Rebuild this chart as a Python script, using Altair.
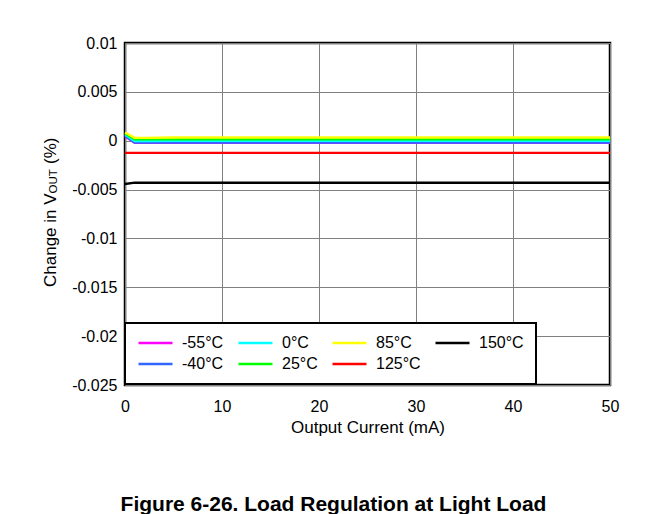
import altair as alt
import pandas as pd

# Output current (mA)
current = [0, 1, 2, 5, 10, 20, 30, 40, 50]

# Change in VOUT (%) per temperature
series_names = ["-55°C", "-40°C", "0°C", "25°C", "85°C", "125°C", "150°C"]
v_m55 = [0.00045, -0.00022, -0.00022, -0.00021, -0.00021, -0.00021, -0.00021, -0.00021, -0.00021]
v_m40 = [0.00050, -0.00020, -0.00020, -0.00019, -0.00019, -0.00019, -0.00019, -0.00019, -0.00019]
v_0 = [0.00063, -0.00003, -0.00003, -0.00002, -0.00002, -0.00002, -0.00002, -0.00002, -0.00002]
v_25 = [0.00074, 0.00014, 0.00014, 0.00015, 0.00015, 0.00015, 0.00015, 0.00015, 0.00015]
v_85 = [0.00085, 0.00030, 0.00030, 0.00033, 0.00033, 0.00033, 0.00033, 0.00033, 0.00033]
v_125 = [-0.00125, -0.00125, -0.00125, -0.00125, -0.00125, -0.00125, -0.00125, -0.00125, -0.00125]
v_150 = [-0.00443, -0.00430, -0.00430, -0.00430, -0.00430, -0.00430, -0.00430, -0.00430, -0.00430]
series_values = [v_m55, v_m40, v_0, v_25, v_85, v_125, v_150]

legend_order = ["-55°C", "-40°C", "0°C", "25°C", "85°C", "125°C", "150°C"]
legend_colors = ["#FF00FF", "#3366FF", "#00FFFF", "#00FF00", "#FFFF00", "#FF0000", "#000000"]

y_ticks = [0.01, 0.005, 0, -0.005, -0.01, -0.015, -0.02, -0.025]
x_ticks = [0, 10, 20, 30, 40, 50]

rows = []
for order, (name, vals) in enumerate(zip(series_names, series_values)):
    for x, v in zip(current, vals):
        rows.append({"I": x, "dV": v, "T": name, "o": order})
df = pd.DataFrame(rows)

FONT = "Liberation Sans"

lines = alt.Chart(df).mark_line(strokeWidth=2.3).encode(
    x=alt.X("I:Q", scale=alt.Scale(domain=[0, 50], nice=False),
            axis=alt.Axis(values=x_ticks, title="Output Current (mA)", grid=True,
                          ticks=False, domain=False, labelPadding=13, labelFlush=False,
                          labelFontSize=16, titleFontSize=17, titlePadding=5,
                          labelFont=FONT, titleFont=FONT, titleFontWeight="normal",
                          labelColor="black", titleColor="black",
                          gridColor="#808080", gridWidth=1, gridOpacity=1)),
    y=alt.Y("dV:Q", scale=alt.Scale(domain=[-0.025, 0.01], nice=False, zero=False),
            axis=alt.Axis(values=y_ticks, title=None, grid=True, ticks=False,
                          domain=False, labelPadding=8, labelFontSize=16, labelFlush=False,
                          labelFont=FONT, labelColor="black",
                          labelExpr="replace(format(datum.value, '~g'), '\u2212', '-')",
                          gridColor="#808080", gridWidth=1, gridOpacity=1)),
    color=alt.Color("T:N", scale=alt.Scale(domain=legend_order, range=legend_colors),
                    legend=alt.Legend(title=None, orient="none", legendX=0, legendY=280,
                                      columns=4, columnPadding=13, rowPadding=5,
                                      padding=12, labelOffset=8, symbolType="stroke",
                                      symbolSize=1156, symbolStrokeWidth=2.5,
                                      clipHeight=16, labelFontSize=16, labelFont=FONT,
                                      labelColor="black", strokeColor="black",
                                      fillColor="white")),
    detail="o:O",
    order="I:Q",
)

title_main = alt.Chart(pd.DataFrame({"a": [0]})).mark_text(
    text="Change in V", angle=270, align="left", baseline="alphabetic",
    fontSize=17, font=FONT, color="black"
).encode(x=alt.value(-69), y=alt.value(244))
title_sub = alt.Chart(pd.DataFrame({"a": [0]})).mark_text(
    text="OUT", angle=270, align="left", baseline="alphabetic",
    fontSize=11.5, font=FONT, color="black"
).encode(x=alt.value(-68), y=alt.value(150.5))
title_end = alt.Chart(pd.DataFrame({"a": [0]})).mark_text(
    text="(%)", angle=270, align="left", baseline="alphabetic",
    fontSize=17, font=FONT, color="black"
).encode(x=alt.value(-69), y=alt.value(121))

caption = alt.Chart(pd.DataFrame({"a": [0]})).mark_text(
    text="Figure 6-26. Load Regulation at Light Load", align="center",
    baseline="alphabetic", fontSize=21, fontWeight="bold", font=FONT, color="black"
).encode(x=alt.value(208.5), y=alt.value(468))

chart = alt.layer(lines, title_main, title_sub, title_end, caption).properties(
    width=485, height=342,
    padding={"left": 117, "top": 35, "right": 30, "bottom": 129},
    autosize=alt.AutoSizeParams(type="none"),
    background="white",
).configure_view(stroke="black", strokeWidth=2.5).configure_legend(strokeWidth=2)

chart.save("out.html", embed_options={"renderer": "svg", "actions": False})
